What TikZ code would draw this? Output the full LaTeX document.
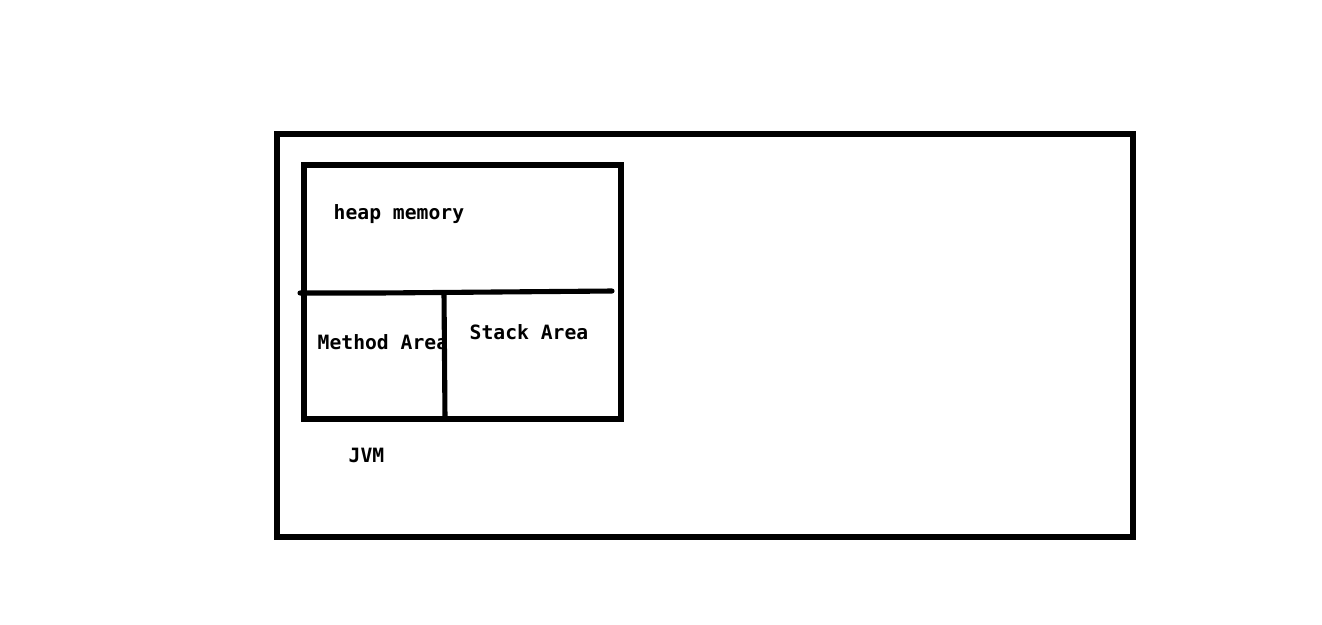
\documentclass[tikz,border=0pt]{standalone}
\usepackage{fontspec}
\setmonofont{DejaVu Sans Mono}
\usepackage{xcolor}
\usepackage{tikz}

\begin{document}
\begin{tikzpicture}[
  x=0.01cm, y=-0.01cm,
  wall/.style={draw, line width=1.45pt},
  label/.style={anchor=west, inner sep=0pt, font=\ttfamily\bfseries\fontsize{5.6pt}{6pt}\selectfont}
]
\useasboundingbox (0,0) rectangle (1322,624);

% Outer box and memory block
\draw[wall] (277,134) rectangle (1133,537);
\draw[wall] (304,165) rectangle (621,419);

% Dividers
\draw[wall, line cap=round] (300,293) -- (379,293) -- (612,291);
\draw[wall] (444,293) -- (445,419);

% Labels
\node[label] (heap) at (333,214) {heap memory};
\node[label] (method) at (317,342) {Method Area};
\node[label] (stack) at (469,332) {Stack Area};
\node[label] (jvm) at (348,455) {JVM};

\end{tikzpicture}
\end{document}
